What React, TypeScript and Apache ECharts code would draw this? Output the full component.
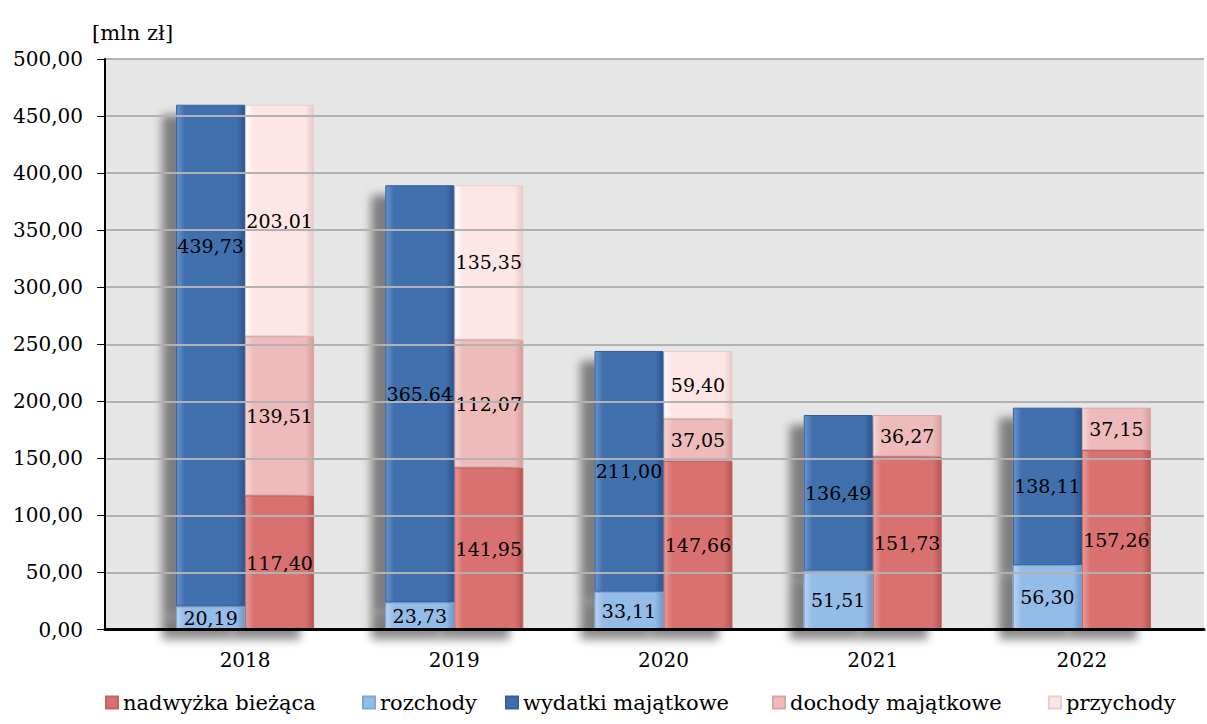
import React, { useEffect, useRef } from "react";
import * as echarts from "echarts";

const years = ["2018", "2019", "2020", "2021", "2022"];
const nadwyzka = [117.4, 141.95, 147.66, 151.73, 157.26];
const rozchody = [20.19, 23.73, 33.11, 51.51, 56.3];
const wydatki = [439.73, 365.64, 211.0, 136.49, 138.11];
const dochody = [139.51, 112.07, 37.05, 36.27, 37.15];
const przychody: (number | null)[] = [203.01, 135.35, 59.4, null, null];

const FONT = "DejaVu Serif";

const fmt = (v: number) => v.toFixed(2).replace(".", ",");

function bevel(light: string, base: string, dark: string) {
  return new echarts.graphic.LinearGradient(0, 0, 1, 0, [
    { offset: 0, color: light },
    { offset: 0.12, color: base },
    { offset: 0.88, color: base },
    { offset: 1, color: dark },
  ]);
}

export default function App() {
  const ref = useRef<HTMLDivElement>(null);
  useEffect(() => {
    if (!ref.current) return;
    const chart = echarts.init(ref.current, undefined, { renderer: "svg" });

    const shadow = {
      shadowColor: "rgba(0,0,0,0.45)",
      shadowBlur: 10,
      shadowOffsetX: -14,
      shadowOffsetY: 10,
    };
    const label = {
      show: true,
      position: "inside",
      color: "#000",
      fontFamily: FONT,
      fontSize: 19,
      formatter: (p: any) => (p.value == null ? "" : fmt(Number(p.value))),
    };

    const mk = (
      name: string,
      stack: string,
      data: any[],
      color: any,
      border: string,
      z: number
    ) => ({
      name,
      type: "bar",
      stack,
      xAxisIndex: 1,
      yAxisIndex: 1,
      barWidth: 69,
      barGap: "0%",
      z,
      data,
      itemStyle: { color, borderColor: border, borderWidth: 1, ...shadow },
      label,
    });

    const legendNames = [
      "nadwyżka bieżąca",
      "rozchody",
      "wydatki majątkowe",
      "dochody majątkowe",
      "przychody",
    ];
    const legendLefts = [100, 357, 500, 767, 1043];

    chart.setOption({
      animation: false,
      title: {
        text: "[mln zł]",
        left: 87,
        top: 17,
        textStyle: { fontFamily: FONT, fontSize: 21, fontWeight: "normal", color: "#000" },
      },
      legend: legendNames.map((n, i) => ({
        data: [n],
        left: legendLefts[i],
        top: 687,
        itemWidth: 12,
        itemHeight: 12,
        itemGap: 4,
        icon: "rect",
        textStyle: { fontFamily: FONT, fontSize: 21, color: "#000" },
      })),
      grid: [
        {
          left: 105,
          right: 3,
          top: 59,
          bottom: 94.5,
          show: true,
          backgroundColor: "#E6E6E6",
          borderWidth: 0,
        },
        { left: 140.5, right: 20.5, top: 59, bottom: 94.5 },
      ],
      xAxis: [
        {
          gridIndex: 0,
          type: "category",
          data: years,
          axisLine: { show: true, lineStyle: { color: "#000", width: 3 } },
          axisTick: { show: false },
          axisLabel: { show: false },
          splitLine: { show: false },
          z: 20,
        },
        {
          gridIndex: 1,
          type: "category",
          data: years,
          axisLine: { show: false },
          axisTick: { show: false },
          axisLabel: { fontFamily: FONT, fontSize: 20, color: "#000", margin: 20 },
        },
      ],
      yAxis: [
        {
          gridIndex: 0,
          type: "value",
          min: 0,
          max: 500,
          interval: 50,
          z: 20,
          axisLine: { show: true, lineStyle: { color: "#000", width: 2 } },
          axisTick: { show: true, length: 8, lineStyle: { color: "#000", width: 1 } },
          axisLabel: {
            fontFamily: FONT,
            fontSize: 20,
            color: "#000",
            margin: 22,
            formatter: (v: number) => fmt(v),
          },
          splitLine: { show: true, lineStyle: { color: "#B2B2B2", width: 2 } },
        },
        {
          gridIndex: 1,
          type: "value",
          min: 0,
          max: 500,
          interval: 50,
          show: false,
          splitLine: { show: false },
        },
      ],
      series: [
        mk("rozchody", "L", rozchody, bevel("#B9D4F3", "#94BCE9", "#6F97C8"), "#7FA6D6", 10),
        mk(
          "wydatki majątkowe",
          "L",
          wydatki.map((v, i) => (i === 0 ? { value: v, label: { offset: [0, -110] } } : v)),
          bevel("#6A93CB", "#4170AE", "#2D5590"),
          "#36609C",
          9
        ),
        mk("nadwyżka bieżąca", "R", nadwyzka, bevel("#E99A98", "#D8716F", "#B65553"), "#C46260", 8),
        mk("dochody majątkowe", "R", dochody, bevel("#F7D6D5", "#EEBBBA", "#D49D9C"), "#D9A6A5", 7),
        mk("przychody", "R", przychody, bevel("#FFFFFF", "#FDE6E5", "#E6C8C7"), "#E8CFCE", 6),
      ],
    });
    return () => chart.dispose();
  }, []);
  return (
    <div
      ref={ref}
      style={{ position: "fixed", left: 0, top: 0, width: 1207, height: 724, background: "#fff" }}
    />
  );
}
